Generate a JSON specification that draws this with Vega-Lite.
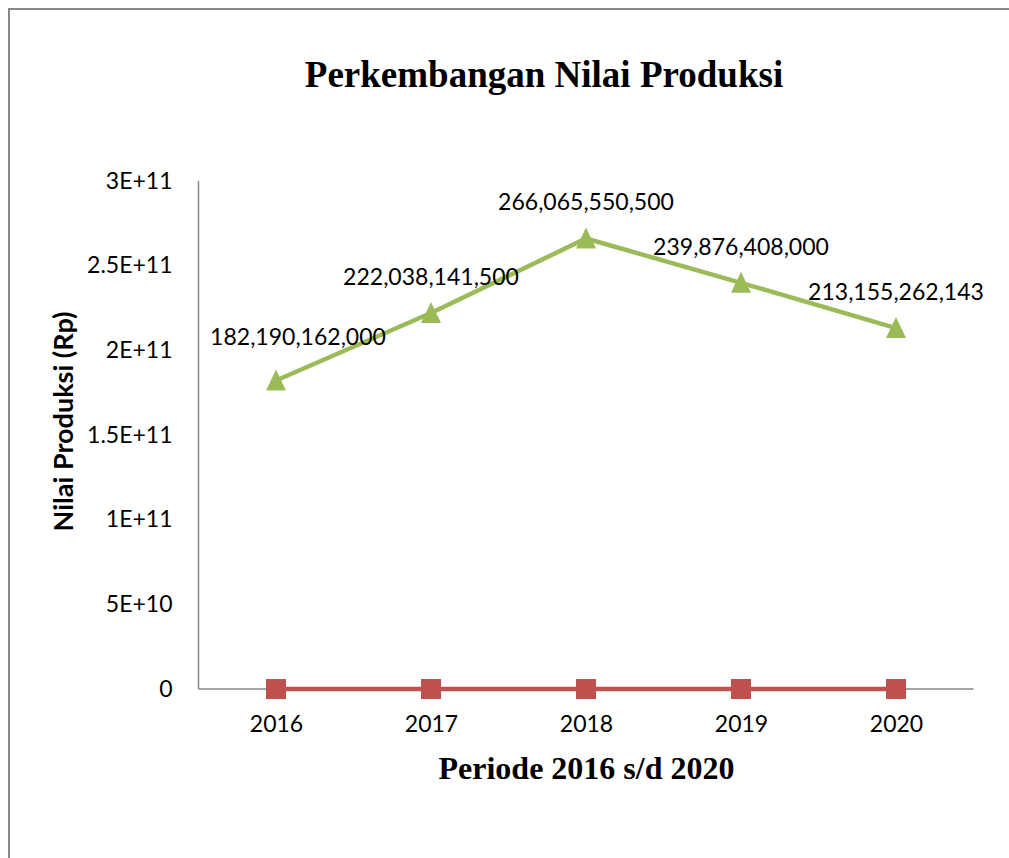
{
  "$schema": "https://vega.github.io/schema/vega-lite/v6.json",
  "width": 1010,
  "height": 860,
  "autosize": {"type": "none"},
  "padding": {"left": 9, "top": 9, "right": 0, "bottom": 0},
  "background": "white",
  "config": {"view": {"stroke": "#888888", "strokeWidth": 2}},
  "title": {
    "text": "Perkembangan Nilai Produksi",
    "font": "Liberation Serif",
    "fontSize": 37,
    "fontWeight": "bold",
    "color": "black",
    "anchor": "middle",
    "frame": "group",
    "baseline": "alphabetic",
    "offset": 0,
    "dx": 30,
    "dy": 115
  },
  "datasets": {
    "series": [
      {"tahun": 2016, "seri": "Nilai Produksi", "nilai": 182190162000},
      {"tahun": 2017, "seri": "Nilai Produksi", "nilai": 222038141500},
      {"tahun": 2018, "seri": "Nilai Produksi", "nilai": 266065550500},
      {"tahun": 2019, "seri": "Nilai Produksi", "nilai": 239876408000},
      {"tahun": 2020, "seri": "Nilai Produksi", "nilai": 213155262143},
      {"tahun": 2016, "seri": "Jumlah Produksi", "nilai": 0},
      {"tahun": 2017, "seri": "Jumlah Produksi", "nilai": 0},
      {"tahun": 2018, "seri": "Jumlah Produksi", "nilai": 0},
      {"tahun": 2019, "seri": "Jumlah Produksi", "nilai": 0},
      {"tahun": 2020, "seri": "Jumlah Produksi", "nilai": 0}
    ],
    "axisLines": [
      {"x": 2015.5, "x2": 2015.5, "y": 0, "y2": 300000000000},
      {"x": 2015.5, "x2": 2020.5, "y": 0, "y2": 0}
    ]
  },
  "layer": [
    {
      "data": {"name": "axisLines"},
      "mark": {"type": "rule", "color": "#868686", "strokeWidth": 1.5},
      "encoding": {
        "x": {
          "field": "x",
          "type": "quantitative",
          "scale": {"domain": [2014.27742, 2020.79355], "zero": false, "nice": false},
          "axis": {
            "orient": "bottom",
            "offset": -180,
            "values": [2016, 2017, 2018, 2019, 2020],
            "format": "d",
            "domain": false,
            "ticks": false,
            "tickSize": 0,
            "grid": false,
            "labelFont": "Lato",
            "labelFontSize": 23,
            "labelColor": "black",
            "labelPadding": 24,
            "labelBaseline": "top",
            "title": "Periode 2016 s/d 2020",
            "titleFont": "Liberation Serif",
            "titleFontSize": 32,
            "titleFontWeight": "bold",
            "titleColor": "black",
            "titleX": 577,
            "titleY": 89,
            "titleAlign": "center",
            "titleBaseline": "alphabetic"
          }
        },
        "x2": {"field": "x2"},
        "y": {
          "field": "y",
          "type": "quantitative",
          "scale": {"domain": [-106299000000, 401575000000], "zero": false, "nice": false},
          "axis": {
            "orient": "left",
            "offset": -190,
            "values": [0, 50000000000, 100000000000, 150000000000, 200000000000, 250000000000, 300000000000],
            "labelExpr": "datum.value == 0 ? '0' : datum.value < 1e11 ? '5E+10' : (datum.value / 1e11) + 'E+11'",
            "domain": false,
            "ticks": false,
            "tickSize": 0,
            "grid": false,
            "labelFont": "Lato",
            "labelFontSize": 23,
            "labelColor": "black",
            "labelPadding": 27,
            "title": "Nilai Produksi (Rp)",
            "titleFont": "Lato",
            "titleFontSize": 27,
            "titleFontWeight": "bold",
            "titleColor": "black",
            "titleX": -135,
            "titleY": 412,
            "titleAngle": 270,
            "titleAlign": "center",
            "titleBaseline": "middle"
          }
        },
        "y2": {"field": "y2"}
      }
    },
    {
      "data": {"name": "series"},
      "mark": {"type": "line", "strokeWidth": 4.5},
      "encoding": {
        "x": {"field": "tahun", "type": "quantitative"},
        "y": {"field": "nilai", "type": "quantitative"},
        "color": {
          "field": "seri",
          "type": "nominal",
          "scale": {"domain": ["Nilai Produksi", "Jumlah Produksi"], "range": ["#9BBB59", "#C0504D"]},
          "legend": null
        }
      }
    },
    {
      "data": {"name": "series"},
      "mark": {"type": "point", "filled": true, "opacity": 1, "size": 400},
      "encoding": {
        "x": {"field": "tahun", "type": "quantitative"},
        "y": {"field": "nilai", "type": "quantitative"},
        "color": {
          "field": "seri",
          "type": "nominal",
          "scale": {"domain": ["Nilai Produksi", "Jumlah Produksi"], "range": ["#9BBB59", "#C0504D"]},
          "legend": null
        },
        "shape": {
          "field": "seri",
          "type": "nominal",
          "scale": {"domain": ["Nilai Produksi", "Jumlah Produksi"], "range": ["M0,-1.1L-1,1L1,1Z", "square"]},
          "legend": null
        }
      }
    },
    {
      "data": {"name": "series"},
      "transform": [{"filter": "datum.seri == 'Nilai Produksi' && datum.tahun != 2016"}],
      "mark": {"type": "text", "font": "Lato", "fontSize": 23, "color": "black", "baseline": "middle", "align": "center", "dy": -35},
      "encoding": {
        "x": {"field": "tahun", "type": "quantitative"},
        "y": {"field": "nilai", "type": "quantitative"},
        "text": {"field": "nilai", "type": "quantitative", "format": ",d"}
      }
    },
    {
      "data": {"name": "series"},
      "transform": [{"filter": "datum.seri == 'Nilai Produksi' && datum.tahun == 2016"}],
      "mark": {"type": "text", "font": "Lato", "fontSize": 23, "color": "black", "baseline": "middle", "align": "center", "dx": 22, "dy": -42},
      "encoding": {
        "x": {"field": "tahun", "type": "quantitative"},
        "y": {"field": "nilai", "type": "quantitative"},
        "text": {"field": "nilai", "type": "quantitative", "format": ",d"}
      }
    }
  ]
}
